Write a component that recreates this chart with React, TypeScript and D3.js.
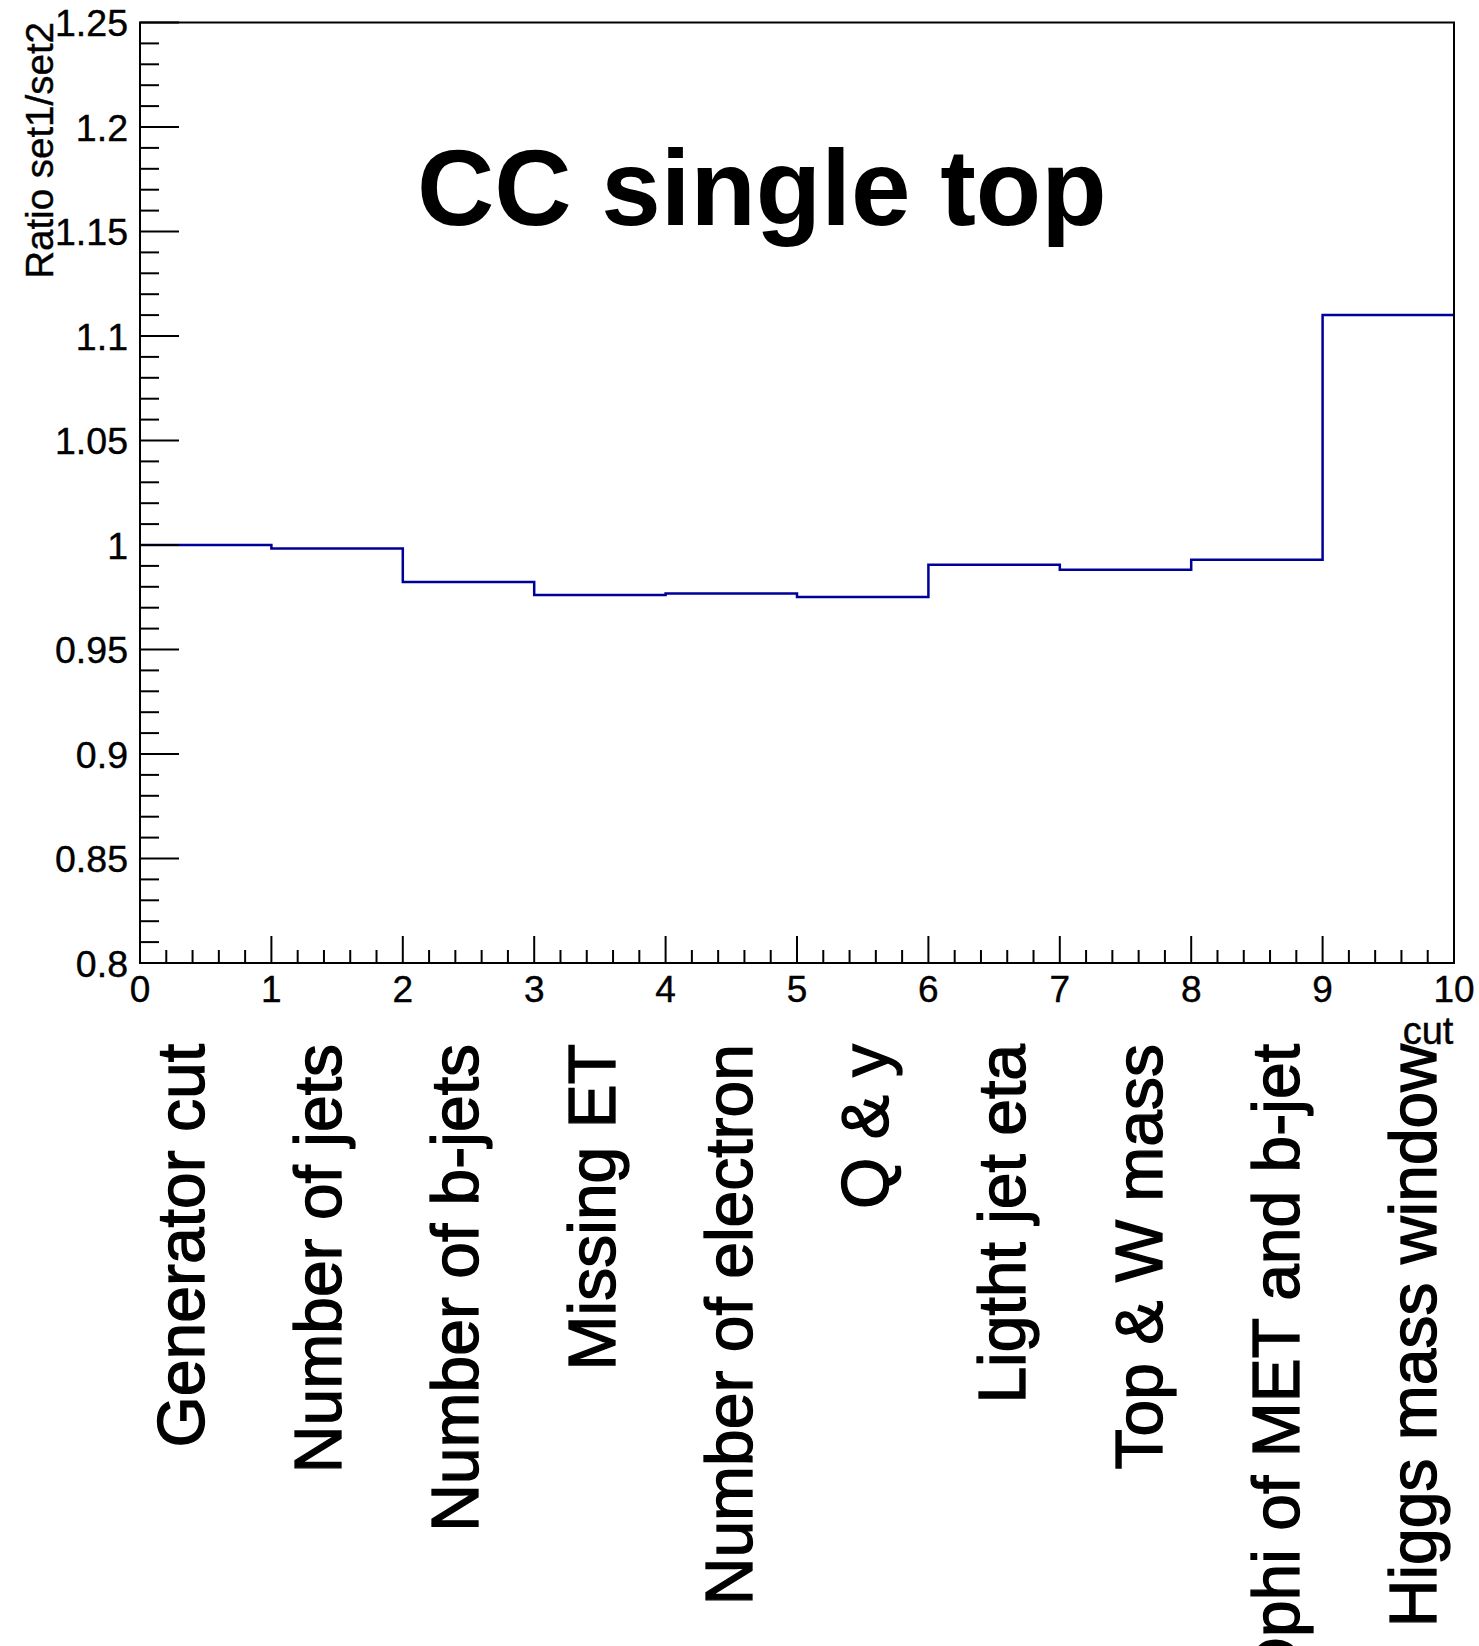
import React from "react";
import * as d3 from "d3";

const W = 1479;
const H = 1646;

const binEdgesDomain: [number, number] = [0, 10];
const yDomain: [number, number] = [0.8, 1.25];

const cutLabels = [
  "Generator cut",
  "Number of jets",
  "Number of b-jets",
  "Missing ET",
  "Number of electron",
  "Q & y",
  "Ligtht jet eta",
  "Top & W mass",
  "Dphi of MET and b-jet",
  "Higgs mass window",
];

const ratioValues = [1.0, 0.9983, 0.9823, 0.9761, 0.9768, 0.9751, 0.9906, 0.9882, 0.993, 1.11];

const yMajorTicks = [0.8, 0.85, 0.9, 0.95, 1, 1.05, 1.1, 1.15, 1.2, 1.25];
const yTickLabels = ["0.8", "0.85", "0.9", "0.95", "1", "1.05", "1.1", "1.15", "1.2", "1.25"];
const xMajorTicks = [0, 1, 2, 3, 4, 5, 6, 7, 8, 9, 10];

const titleText = "CC single top";
const yTitle = "Ratio set1/set2";
const subscriptText = "cut";

const FONT = "'Liberation Sans', Arial, Helvetica, sans-serif";

export default function App() {
  const left = 140;
  const right = 1454;
  const top = 22.5;
  const bottom = 963;

  const x = d3.scaleLinear().domain(binEdgesDomain).range([left, right]);
  const y = d3.scaleLinear().domain(yDomain).range([bottom, top]);

  const yMinor = d3
    .range(0, 46)
    .map((i) => 0.8 + i * 0.01)
    .filter((v) => Math.abs(Math.round(v * 20) - v * 20) > 1e-6);
  const xMinor = d3
    .range(0, 51)
    .map((i) => i * 0.2)
    .filter((v) => Math.abs(Math.round(v) - v) > 1e-6);

  const pts: [number, number][] = [];
  ratioValues.forEach((v, i) => {
    pts.push([x(i), y(v)]);
    pts.push([x(i + 1), y(v)]);
  });
  const line = d3.line<[number, number]>().x((d) => d[0]).y((d) => d[1]);

  const labelX = d3.scaleLinear().domain([0, cutLabels.length - 1]).range([204, 1436]);
  const labelTop = 1044;

  return (
    <svg
      width={W}
      height={H}
      style={{ position: "absolute", left: 0, top: 0, background: "#fff" }}
      fontFamily={FONT}
    >
      <rect x={0} y={0} width={W} height={H} fill="#fff" />
      <path d={line(pts) || ""} fill="none" stroke="#000099" strokeWidth={2.5} />

      <rect x={left} y={top} width={right - left} height={bottom - top} fill="none" stroke="#000" strokeWidth={2} />

      {yMajorTicks.map((t) => (
        <line key={"ym" + t} x1={left} x2={left + 39} y1={y(t)} y2={y(t)} stroke="#000" strokeWidth={2} />
      ))}
      {yMinor.map((t) => (
        <line key={"yn" + t.toFixed(3)} x1={left} x2={left + 19} y1={y(t)} y2={y(t)} stroke="#000" strokeWidth={2} />
      ))}
      {yMajorTicks.map((t, i) => (
        <text key={"yl" + t} x={128} y={y(t)} dy="0.36em" textAnchor="end" fontSize={37.5} fill="#000" stroke="#000" strokeWidth={0.4}>
          {yTickLabels[i]}
        </text>
      ))}

      {xMajorTicks.map((t) => (
        <line key={"xm" + t} x1={x(t)} x2={x(t)} y1={bottom} y2={bottom - 27} stroke="#000" strokeWidth={2} />
      ))}
      {xMinor.map((t) => (
        <line key={"xn" + t.toFixed(2)} x1={x(t)} x2={x(t)} y1={bottom} y2={bottom - 13} stroke="#000" strokeWidth={2} />
      ))}
      {xMajorTicks.map((t) => (
        <text key={"xl" + t} x={x(t)} y={1002} textAnchor="middle" fontSize={37} fill="#000" stroke="#000" strokeWidth={0.4}>
          {t}
        </text>
      ))}

      {cutLabels.map((lab, i) => (
        <text
          key={"cl" + i}
          transform={`translate(${labelX(i)},${labelTop}) rotate(-90)`}
          textAnchor="end"
          fontSize={66}
          fill="#000"
          stroke="#000"
          strokeWidth={1.3}
        >
          {lab}
        </text>
      ))}
      <text x={1428} y={1044} textAnchor="middle" fontSize={38} fill="#000" stroke="#000" strokeWidth={0.4}>
        {subscriptText}
      </text>

      <text transform={`translate(53,22) rotate(-90)`} textAnchor="end" fontSize={38.5} fill="#000" stroke="#000" strokeWidth={0.4}>
        {yTitle}
      </text>

      <text x={417} y={225} fontSize={107} fontWeight="bold" fill="#000">
        {titleText}
      </text>
    </svg>
  );
}
